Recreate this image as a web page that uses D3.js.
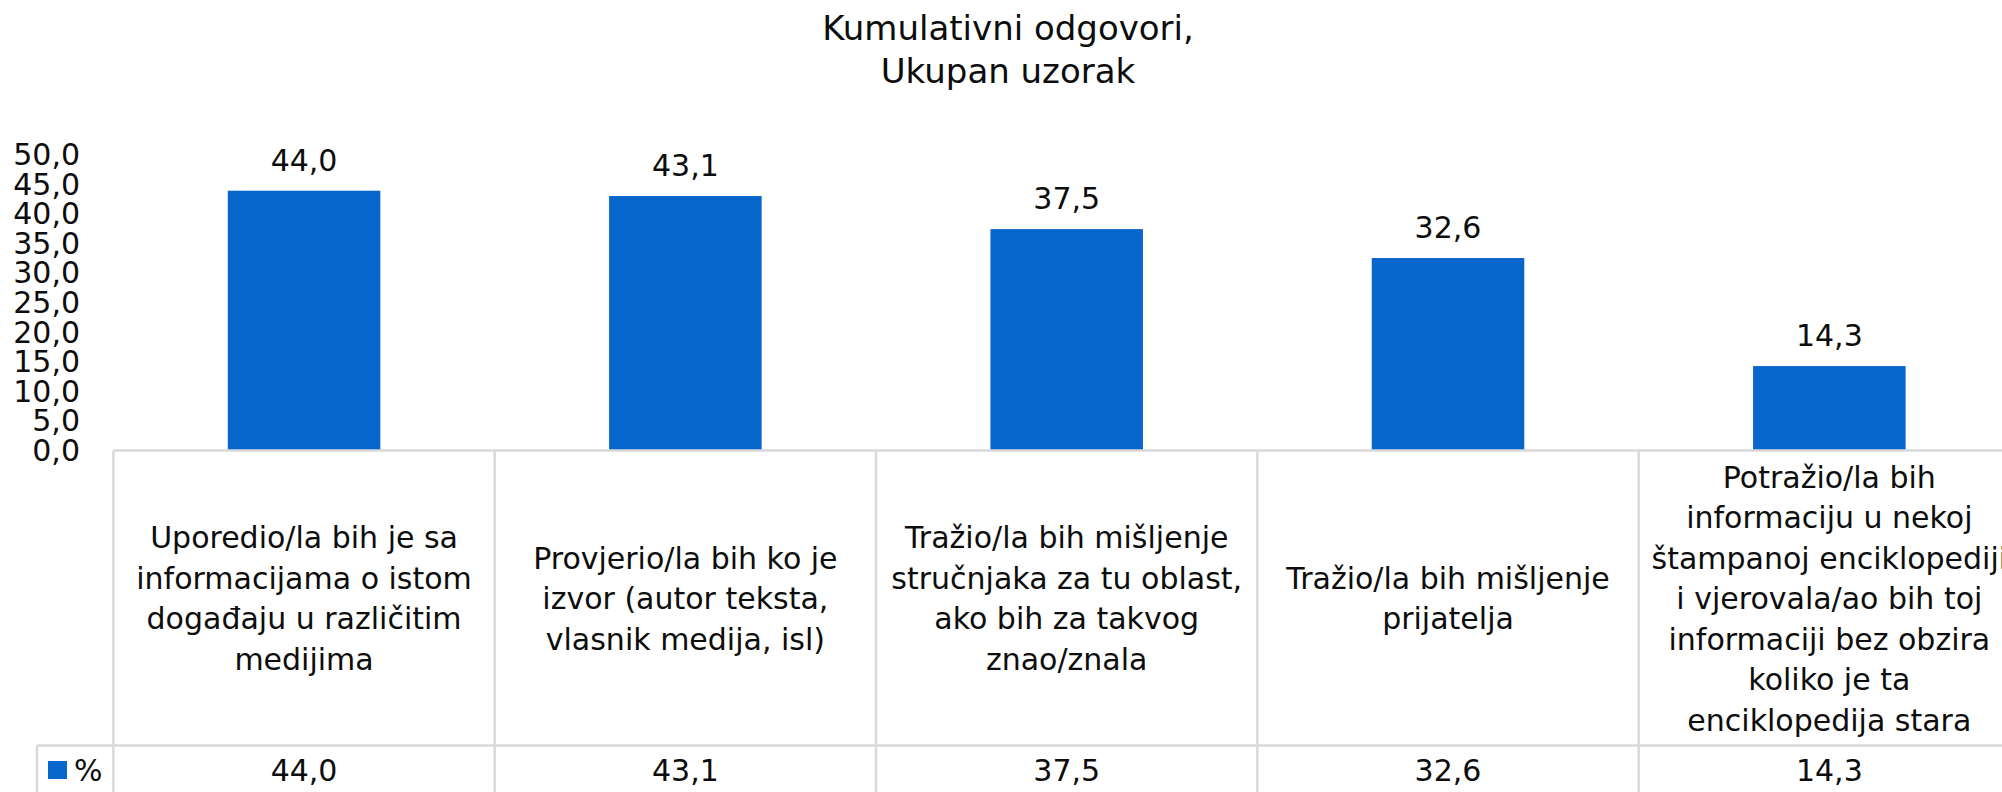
<!DOCTYPE html>
<html>
<head>
<meta charset="utf-8">
<script src="https://cdn.jsdelivr.net/npm/d3@7"></script>
<style>
  body { margin: 0; background: #fff; }
  svg { display: block; font-family: "DejaVu Sans", sans-serif; }
</style>
</head>
<body>
<svg id="chart"></svg>
<script>
// chart data
const titleLines = ["Kumulativni odgovori,", "Ukupan uzorak"];
const categories = ["c1", "c2", "c3", "c4", "c5"];
const categoryLines = [
  ["Uporedio/la bih je sa", "informacijama o istom", "događaju u različitim", "medijima"],
  ["Provjerio/la bih ko je", "izvor (autor teksta,", "vlasnik medija, isl)"],
  ["Tražio/la bih mišljenje", "stručnjaka za tu oblast,", "ako bih za takvog", "znao/znala"],
  ["Tražio/la bih mišljenje", "prijatelja"],
  ["Potražio/la bih", "informaciju u nekoj", "štampanoj enciklopediji", "i vjerovala/ao bih toj", "informaciji bez obzira", "koliko je ta", "enciklopedija stara"]
];
const values = [44.0, 43.1, 37.5, 32.6, 14.3];
const seriesName = "%";
const yTicks = [0, 5, 10, 15, 20, 25, 30, 35, 40, 45, 50];

const width = 2002, height = 792;
const barColor = "#0766cc";
const gridColor = "#d9d9d9";
const textColor = "#0d0d0d";

const locale = d3.formatLocale({decimal: ",", thousands: ".", grouping: [3], currency: ["", ""]});
const fmt = locale.format(".1f");

const svg = d3.select("#chart").attr("width", width).attr("height", height);

const x = d3.scaleBand()
  .domain(categories)
  .range([113.4, 2020])
  .paddingInner(0.6)
  .paddingOuter(0.3);
const step = x.step();
const cellLeft = (c) => x(c) - step * 0.3;

const y = d3.scaleLinear().domain([0, 50]).range([450.5, 155.3]);

// title
svg.append("g").selectAll("text")
  .data(titleLines).enter()
  .append("text")
  .attr("x", 1008)
  .attr("y", (d, i) => 40 + i * 43)
  .attr("text-anchor", "middle")
  .attr("font-size", 34)
  .attr("fill", textColor)
  .text(d => d);

// y axis labels only
const yAxis = d3.axisLeft(y).tickValues(yTicks).tickSize(0).tickPadding(0).tickFormat(fmt);
const yg = svg.append("g").attr("transform", "translate(80,0)").call(yAxis);
yg.select(".domain").remove();
yg.selectAll("text").attr("font-size", 30).attr("font-family", "DejaVu Sans").attr("fill", textColor);

// bars
svg.selectAll(".bar")
  .data(values).enter()
  .append("rect")
  .attr("class", "bar")
  .attr("x", (d, i) => x(categories[i]))
  .attr("y", d => y(d))
  .attr("width", x.bandwidth())
  .attr("height", d => y(0) - y(d))
  .attr("fill", barColor);

// data labels
svg.selectAll(".label")
  .data(values).enter()
  .append("text")
  .attr("class", "label")
  .attr("x", (d, i) => x(categories[i]) + x.bandwidth() / 2)
  .attr("y", d => y(d) - 20)
  .attr("text-anchor", "middle")
  .attr("font-size", 30)
  .attr("fill", textColor)
  .text(d => fmt(d));

// data table grid
const tableTop = y(0), rowLine = 745.5, tableBottom = 800, legendLeft = 37;
const grid = svg.append("g").attr("stroke", gridColor).attr("stroke-width", 2.5);
grid.append("line").attr("x1", cellLeft(categories[0])).attr("x2", width).attr("y1", tableTop).attr("y2", tableTop);
grid.append("line").attr("x1", legendLeft).attr("x2", width).attr("y1", rowLine).attr("y2", rowLine);
grid.append("line").attr("x1", legendLeft).attr("x2", legendLeft).attr("y1", rowLine).attr("y2", tableBottom);
grid.selectAll(".vline")
  .data(d3.range(categories.length + 1)).enter()
  .append("line")
  .attr("x1", i => cellLeft(categories[0]) + i * step)
  .attr("x2", i => cellLeft(categories[0]) + i * step)
  .attr("y1", tableTop)
  .attr("y2", tableBottom);

// category labels
const catMid = (tableTop + rowLine) / 2;
const lineH = 40.5;
categoryLines.forEach((lines, i) => {
  const cx = x(categories[i]) + x.bandwidth() / 2;
  svg.append("text")
    .attr("text-anchor", "middle")
    .attr("font-size", 30)
    .attr("fill", textColor)
    .selectAll("tspan")
    .data(lines).enter()
    .append("tspan")
    .attr("x", cx)
    .attr("y", (d, j) => catMid - (lines.length - 1) * lineH / 2 + 11 + j * lineH)
    .text(d => d);
});

// table values row
svg.selectAll(".tval")
  .data(values).enter()
  .append("text")
  .attr("class", "tval")
  .attr("x", (d, i) => x(categories[i]) + x.bandwidth() / 2)
  .attr("y", 781)
  .attr("text-anchor", "middle")
  .attr("font-size", 30)
  .attr("fill", textColor)
  .text(d => fmt(d));

// legend key
svg.append("rect").attr("x", 48).attr("y", 761).attr("width", 19).attr("height", 18).attr("fill", barColor);
svg.append("text").attr("x", 74).attr("y", 781).attr("font-size", 30).attr("fill", textColor).text(seriesName);
</script>
</body>
</html>
